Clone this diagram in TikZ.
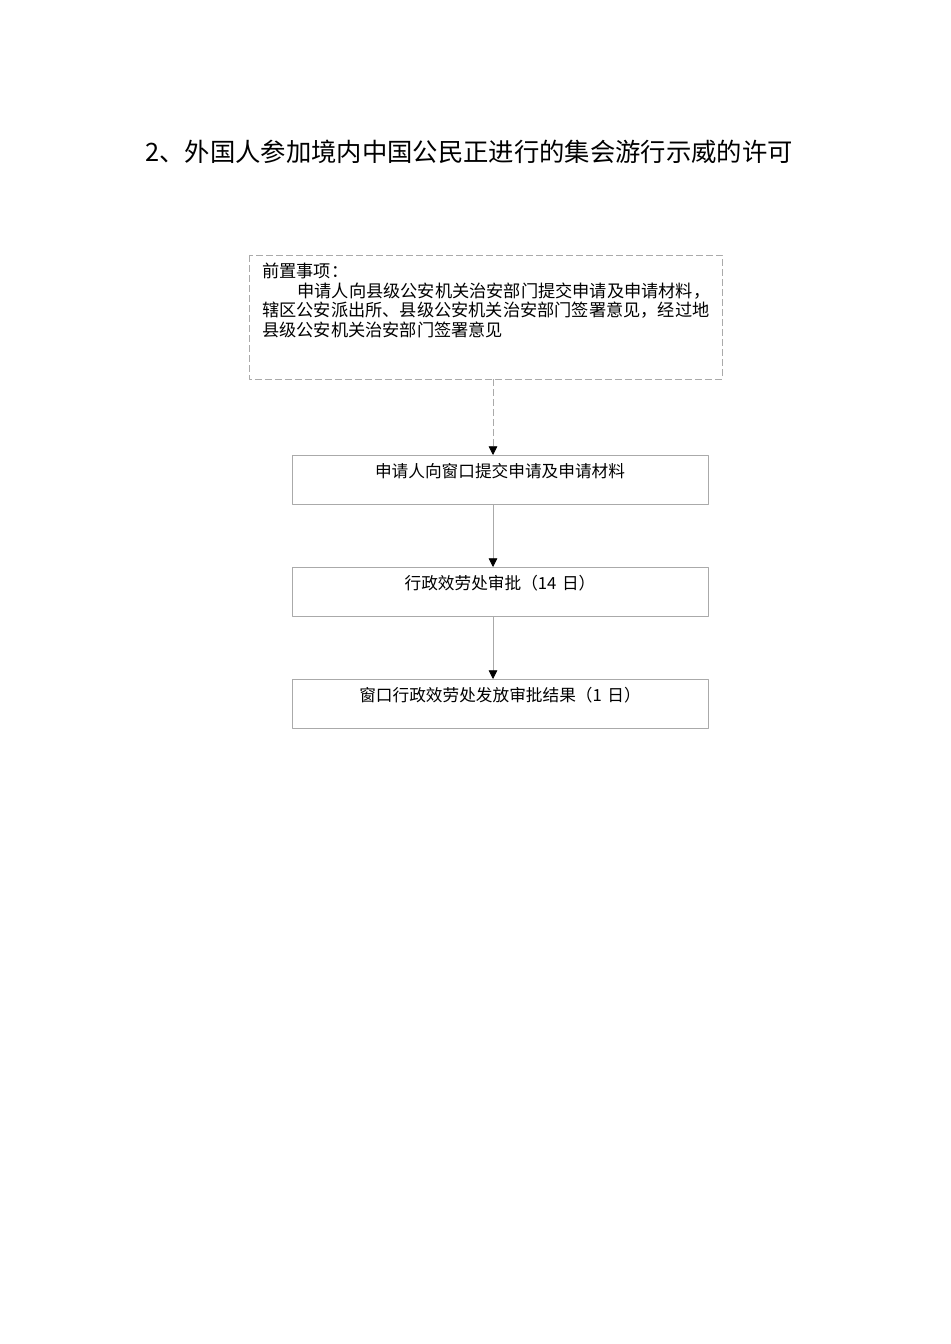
\documentclass[tikz,border=0pt]{standalone}
\usepackage{fontspec}
\newfontfamily\cjk{Noto Sans CJK SC}
\usetikzlibrary{arrows.meta}
\definecolor{boxgray}{RGB}{170,170,170}
\tikzset{
  stepbox/.style={draw=boxgray,line width=0.6pt,text width=312pt,align=center,inner sep=0pt,
    text height=16.5pt,text depth=20.25pt,font=\cjk\fontsize{12.5}{14}\selectfont},
  prebox/.style={draw=boxgray,line width=0.6pt,dash pattern=on 5pt off 2.5pt},
  flow/.style={draw=boxgray,line width=0.6pt,-{Triangle[width=6.5pt,length=6.5pt,black]}}
}
\begin{document}
\begin{tikzpicture}[x=0.75pt,y=-0.75pt,line join=round]
  \useasboundingbox (0,0) rectangle (950,1344);
  % title
  \node (title) at (469,152) {\cjk\fontsize{19}{22}\selectfont 2、外国人参加境内中国公民正进行的集会游行示威的许可};
  % prerequisite box
  \draw[prebox] (249,255) coordinate (pretl) rectangle (722,379) coordinate (prebr);
  \node (pre) [anchor=north west,inner sep=0pt,text width=340pt,align=left,
    font=\cjk\fontsize{12.9}{14.6}\selectfont] at (262,263)
    {前置事项：\\\hspace*{2.05em}申请人向县级公安机关治安部门提交申请及申请材料，\\辖区公安派出所、县级公安机关治安部门签署意见，经过地\\县级公安机关治安部门签署意见};
  \coordinate (axis) at (493,0);
  % steps
  \node (submit) [stepbox,anchor=north] at (500,455) {申请人向窗口提交申请及申请材料};
  \node (review) [stepbox,anchor=north] at (500,567) {行政效劳处审批（14 日）};
  \node (issue)  [stepbox,anchor=north] at (500,679) {窗口行政效劳处发放审批结果（1 日）};
  % connectors
  \draw[flow,dash pattern=on 5pt off 2.5pt] (prebr -| axis) -- (submit.north -| axis);
  \draw[flow] (submit.south -| axis) -- (review.north -| axis);
  \draw[flow] (review.south -| axis) -- (issue.north -| axis);
\end{tikzpicture}
\end{document}
